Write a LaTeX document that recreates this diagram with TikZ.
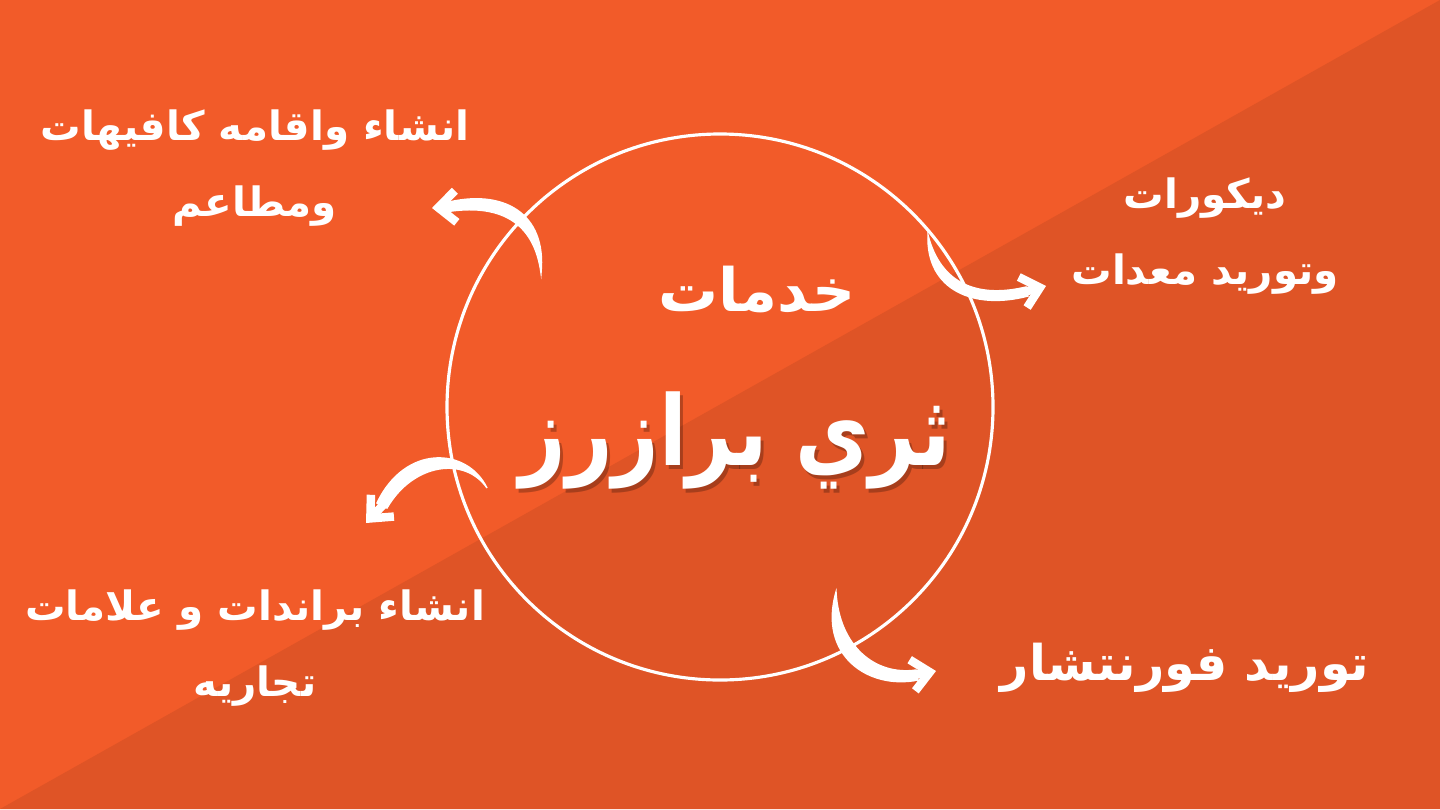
\documentclass[tikz,border=0pt]{standalone}
\usepackage{fontspec}
\newfontfamily\arabicfont[Script=Arabic]{DejaVu Sans}
\TeXXeTstate=1
\usetikzlibrary{arrows.meta}
\definecolor{lightorange}{HTML}{F25B29}
\definecolor{darkorange}{HTML}{DF5426}
\tikzset{
  servicetext/.style={text=white, align=center, font=\arabicfont\bfseries\fontsize{11.5}{21.5}\selectfont},
  arrowbody/.style={fill=white, draw=white, line width=0.4pt},
  arrowhead/.style={white, line width=2.4pt, -{Straight Barb[length=5pt,width=9pt,line width=2.4pt]}}
}
\begin{document}
\begin{tikzpicture}[x=0.01cm, y=-0.01cm]
\useasboundingbox (0,0) rectangle (1440,809);
\fill[lightorange] (0,0) rectangle (1440,809);
\fill[darkorange] (0,809) -- (1440,0) -- (1440,809) -- cycle;

\draw[white, line width=0.9pt] (720,407) circle (273);

% center title
\node[servicetext, font=\arabicfont\bfseries\fontsize{17}{20}\selectfont] (title) at (757,290) {\beginR خدمات\endR};
\node[text=black, opacity=0.25, font=\arabicfont\bfseries\fontsize{23}{28}\selectfont] (shadow) at (738,444) {\scalebox{1}[1.2]{\beginR ثري برازرز\endR}};
\node[text=white, font=\arabicfont\bfseries\fontsize{23}{28}\selectfont] (brand) at (735,440) {\scalebox{1}[1.2]{\beginR ثري برازرز\endR}};

% services
\node[servicetext] (cafes) at (255,168) {\beginR انشاء واقامه كافيهات\endR\\\beginR ومطاعم\endR};
\node[servicetext] (decor) at (1205,236) {\beginR ديكورات\endR\\\beginR وتوريد معدات\endR};
\node[servicetext] (brands) at (255,648) {\beginR انشاء براندات و علامات\endR\\\beginR تجاريه\endR};
\node[servicetext, font=\arabicfont\bfseries\fontsize{14}{20}\selectfont] (furniture) at (1185,668) {\beginR توريد فورنتشار\endR};

% arrows
\filldraw[arrowbody] (541,273) .. controls (547,213) and (503,188) .. (445,203) -- (445,212) .. controls (499,203) and (534,221) .. cycle;
\draw[arrowhead] (448,207) -- (432,208);
\filldraw[arrowbody] (928,235) .. controls (926,291) and (975,310) .. (1028,296) -- (1026,287) .. controls (980,298) and (941,286) .. cycle;
\draw[arrowhead] (1024,292) -- (1046,286);
\filldraw[arrowbody] (487,488) .. controls (467,447) and (405,444) .. (377,503) -- (387,508) .. controls (413,463) and (465,456) .. cycle;
\draw[arrowhead] (384,504) -- (366,523);
\filldraw[arrowbody] (836,592) .. controls (818,655) and (868,690) .. (918,680) -- (916,670) .. controls (875,676) and (839,646) .. cycle;
\draw[arrowhead] (914,675) -- (936,671);
\end{tikzpicture}
\end{document}
